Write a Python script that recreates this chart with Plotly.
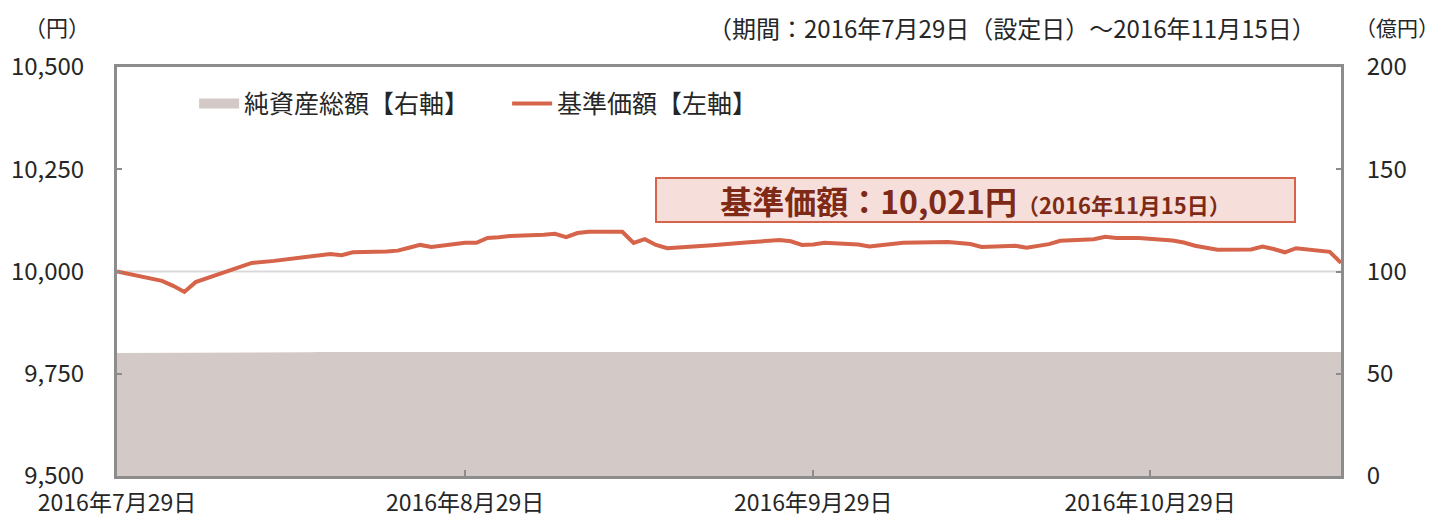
import plotly.graph_objects as go

# ---- data ----
dates = [
    "2016-07-29",
    "2016-08-01", "2016-08-02", "2016-08-03", "2016-08-04", "2016-08-05",
    "2016-08-08", "2016-08-09", "2016-08-10", "2016-08-12",
    "2016-08-15", "2016-08-16", "2016-08-17", "2016-08-18", "2016-08-19",
    "2016-08-22", "2016-08-23", "2016-08-24", "2016-08-25", "2016-08-26",
    "2016-08-29", "2016-08-30", "2016-08-31", "2016-09-01", "2016-09-02",
    "2016-09-05", "2016-09-06", "2016-09-07", "2016-09-08", "2016-09-09",
    "2016-09-12", "2016-09-13", "2016-09-14", "2016-09-15", "2016-09-16",
    "2016-09-20", "2016-09-21", "2016-09-23",
    "2016-09-26", "2016-09-27", "2016-09-28", "2016-09-29", "2016-09-30",
    "2016-10-03", "2016-10-04", "2016-10-05", "2016-10-06", "2016-10-07",
    "2016-10-11", "2016-10-12", "2016-10-13", "2016-10-14",
    "2016-10-17", "2016-10-18", "2016-10-19", "2016-10-20", "2016-10-21",
    "2016-10-24", "2016-10-25", "2016-10-26", "2016-10-27", "2016-10-28",
    "2016-10-31", "2016-11-01", "2016-11-02", "2016-11-04",
    "2016-11-07", "2016-11-08", "2016-11-09", "2016-11-10", "2016-11-11",
    "2016-11-14", "2016-11-15",
]
nav_price = [
    10000,
    9982, 9977, 9965, 9950, 9974,
    10001, 10011, 10021, 10026,
    10035, 10038, 10043, 10040, 10047,
    10049, 10051, 10058, 10065, 10060,
    10070, 10070, 10082, 10084, 10087,
    10090, 10092, 10084, 10094, 10097,
    10097, 10070, 10079, 10065, 10057,
    10064, 10067, 10071,
    10077, 10074, 10065, 10066, 10070,
    10066, 10061, 10064, 10067, 10070,
    10072, 10070, 10067, 10060,
    10063, 10058, 10062, 10067, 10075,
    10079, 10085, 10082, 10082, 10082,
    10076, 10071, 10063, 10053,
    10054, 10061, 10055, 10047, 10057,
    10048, 10021,
]
net_assets = [
    60.2,
    60.2, 60.3, 60.3, 60.3, 60.4,
    60.4, 60.4, 60.5, 60.5,
    60.5, 60.6, 60.6, 60.6, 60.6,
    60.7, 60.7, 60.7, 60.7, 60.8,
    60.8, 60.8, 60.8, 60.8, 60.8,
    60.8, 60.8, 60.8, 60.8, 60.8,
    60.8, 60.8, 60.8, 60.8, 60.8,
    60.8, 60.8, 60.8,
    60.8, 60.8, 60.8, 60.8, 60.8,
    60.8, 60.8, 60.8, 60.8, 60.8,
    60.8, 60.8, 60.8, 60.8,
    60.8, 60.8, 60.8, 60.8, 60.8,
    60.8, 60.8, 60.8, 60.8, 60.8,
    60.7, 60.7, 60.7, 60.7,
    60.7, 60.7, 60.7, 60.6, 60.6,
    60.6, 60.6,
]
x_tick_dates = ["2016-07-29", "2016-08-29", "2016-09-29", "2016-10-29"]
x_tick_labels = ["2016年7月29日", "2016年8月29日", "2016年9月29日", "2016年10月29日"]
left_ticks = [9500, 9750, 10000, 10250, 10500]
right_ticks = [0, 50, 100, 150, 200]

FONT = "Noto Sans CJK JP, Noto Sans, sans-serif"
TXT = "#262626"
AX = "#8c8c8c"
LINE_C = "#D6644A"
AREA_C = "#D3CAC7"

fig = go.Figure()
fig.add_trace(go.Scatter(
    x=dates, y=net_assets, name="純資産総額【右軸】", yaxis="y2",
    mode="lines", line=dict(width=0, color=AREA_C), fill="tozeroy",
    fillcolor=AREA_C, showlegend=False,
))
# legend swatch for the area series (thick bar like the original)
fig.add_trace(go.Scatter(
    x=[None], y=[None], name="純資産総額【右軸】", yaxis="y2",
    mode="lines", line=dict(width=13, color=AREA_C), showlegend=True,
))
fig.add_trace(go.Scatter(
    x=dates, y=nav_price, name="基準価額【左軸】", yaxis="y",
    mode="lines", line=dict(width=4, color=LINE_C),
))

fig.update_layout(
    width=1429, height=512,
    margin=dict(l=109, r=96, t=59, b=44),
    paper_bgcolor="white", plot_bgcolor="white",
    font=dict(family=FONT, size=22, color=TXT),
    showlegend=True,
    legend=dict(
        orientation="h", x=0.063, y=0.91, xanchor="left", yanchor="middle",
        font=dict(size=25, color=TXT), bgcolor="rgba(0,0,0,0)",
        traceorder="normal", itemwidth=40, entrywidth=258,
    ),
    xaxis=dict(
        type="date", range=["2016-07-29", "2016-11-15"],
        tickvals=x_tick_dates, ticktext=x_tick_labels,
        showgrid=False, zeroline=False, automargin=False,
        showline=True, linecolor=AX, linewidth=3, mirror=True,
        ticks="inside", ticklen=6, tickcolor=AX, tickwidth=2,
        tickfont=dict(size=23, color=TXT), ticklabelstandoff=4,
    ),
    yaxis=dict(
        range=[9500, 10500], tickvals=left_ticks, tickformat=",",
        showgrid=False, zeroline=False, automargin=False,
        showline=True, linecolor=AX, linewidth=3, mirror=True,
        ticks="inside", ticklen=5, tickcolor=AX, tickwidth=2,
        tickfont=dict(size=24, color=TXT), ticklabelstandoff=25,
    ),
    yaxis2=dict(
        range=[0, 200], tickvals=right_ticks, overlaying="y", side="right",
        showgrid=False, zeroline=False, automargin=False,
        showline=True, linecolor=AX, linewidth=3,
        ticks="inside", ticklen=5, tickcolor=AX, tickwidth=2,
        tickfont=dict(size=24, color=TXT), ticklabelstandoff=18,
    ),
    shapes=[dict(
        type="line", xref="paper", yref="y", x0=0, x1=1, y0=10000, y1=10000,
        line=dict(color="#d9d9d9", width=2), layer="below",
    )],
    annotations=[
        dict(text="（円）", xref="paper", yref="paper", x=-0.078, y=1.10,
             xanchor="left", yanchor="middle", showarrow=False,
             font=dict(size=22, color=TXT)),
        dict(text="（億円）", xref="paper", yref="paper", x=1.010, y=1.097,
             xanchor="left", yanchor="middle", showarrow=False,
             font=dict(size=21, color=TXT)),
        dict(text="（期間：2016年7月29日（設定日）～2016年11月15日）",
             xref="paper", yref="paper", x=0.981, y=1.097,
             xanchor="right", yanchor="middle", showarrow=False,
             font=dict(size=24, color=TXT)),
        dict(text="<b>基準価額：10,021円</b><b><span style='font-size:22px'>（2016年11月15日）</span></b>",
             xref="paper", yref="paper", x=0.701, y=0.675,
             xanchor="center", yanchor="middle", showarrow=False,
             width=635, height=40, align="center",
             bgcolor="#F6DFDA", bordercolor=LINE_C, borderwidth=2, borderpad=1,
             font=dict(size=32, color="#7F2A17")),
    ],
)

fig.write_html("out.html")
